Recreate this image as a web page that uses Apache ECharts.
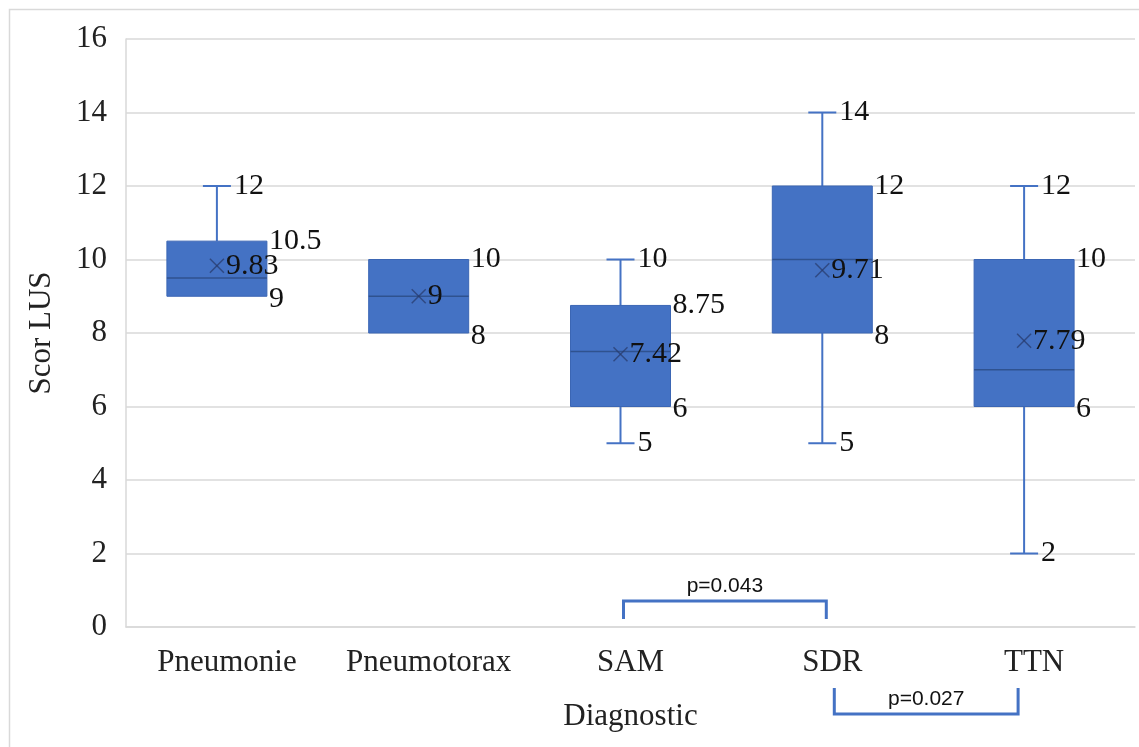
<!DOCTYPE html>
<html>
<head>
<meta charset="utf-8">
<script src="https://cdn.jsdelivr.net/npm/echarts@6/dist/echarts.min.js"></script>
<style>
  html, body { margin: 0; padding: 0; background: #fff; }
  #chart { width: 1139px; height: 747px; }
</style>
</head>
<body>
<div id="chart"></div>
<script>
// ---- data ----
const categories = ['Pneumonie', 'Pneumotorax', 'SAM', 'SDR', 'TTN'];
const minValues    = [9,    8,  5,    5,    2];
const q1Values     = [9,    8,  6,    8,    6];
const medianValues = [9.5,  9,  7.5,  10,   7];
const q3Values     = [10.5, 10, 8.75, 12,   10];
const maxValues    = [12,   10, 10,   14,   12];
const meanValues   = [9.83, 9,  7.42, 9.71, 7.79];
const yAxisMin = 0, yAxisMax = 16, yAxisStep = 2;
const xAxisTitle = 'Diagnostic';
const yAxisTitle = 'Scor LUS';
const compFrom   = ['SAM', 'SDR'];
const compTo     = ['SDR', 'TTN'];
const compLabels = ['p=0.043', 'p=0.027'];

// ---- styles ----
const S = {
  blue: '#4472C4',
  boxBorder: '#3B66B4',
  median: '#2F528F',
  mean: 'rgba(40,60,110,0.75)',
  grid: '#d9d9d9',
  serif: '"Liberation Serif", "Times New Roman", serif',
  sans: '"Liberation Sans", Arial, sans-serif',
  boxOffset: -10,
  boxWidth: 100,
  capHalf: 14,
  labelFont: 30,
  axisFont: 31
};

const seriesData = categories.map((c, i) => [i, minValues[i], q1Values[i], medianValues[i], q3Values[i], maxValues[i], meanValues[i]]);

function fmt(v) { return String(v); }

function renderItem(params, api) {
  const i = api.value(0);
  const mn = api.value(1), q1 = api.value(2), md = api.value(3), q3 = api.value(4), mx = api.value(5), mean = api.value(6);
  const cx = api.coord([i, 0])[0] + S.boxOffset;
  const y = v => api.coord([i, v])[1];
  const hw = S.boxWidth / 2, cap = S.capHalf;
  const ch = [];
  const line = (x1, y1, x2, y2, stroke, lw) => ({ type: 'line', shape: { x1, y1, x2, y2 }, style: { stroke, lineWidth: lw } });
  const label = (txt, x, yy) => ({ type: 'text', x: x, y: yy, z2: 20,
    style: { text: txt, fill: '#111', font: S.labelFont + 'px ' + S.serif, align: 'left', verticalAlign: 'middle' } });
  if (mx > q3) {
    ch.push(line(cx, y(q3), cx, y(mx), S.blue, 2));
    ch.push(line(cx - cap, y(mx), cx + cap, y(mx), S.blue, 2));
  }
  if (mn < q1) {
    ch.push(line(cx, y(q1), cx, y(mn), S.blue, 2));
    ch.push(line(cx - cap, y(mn), cx + cap, y(mn), S.blue, 2));
  }
  ch.push({ type: 'rect', shape: { x: cx - hw, y: y(q3), width: 2 * hw, height: y(q1) - y(q3) },
    style: { fill: S.blue, stroke: S.boxBorder, lineWidth: 1 } });
  ch.push(line(cx - hw, y(md), cx + hw, y(md), S.median, 1.5));
  const m = 7, ym = y(mean);
  ch.push(line(cx - m, ym - m, cx + m, ym + m, S.mean, 1.5));
  ch.push(line(cx - m, ym + m, cx + m, ym - m, S.mean, 1.5));
  // labels
  if (mx > q3) ch.push(label(fmt(mx), cx + cap + 3, y(mx)));
  ch.push(label(fmt(q3), cx + hw + 2, y(q3)));
  ch.push(label(fmt(mean), cx + 9, ym));
  ch.push(label(fmt(q1), cx + hw + 2, y(q1) + 3));
  if (mn < q1) ch.push(label(fmt(mn), cx + cap + 3, y(mn)));
  return { type: 'group', children: ch };
}

const chart = echarts.init(document.getElementById('chart'), null, { renderer: 'canvas' });
const option = {
  animation: false,
  backgroundColor: '#fff',
  grid: { left: 126, right: 4, top: 39, bottom: 120 },
  xAxis: {
    type: 'category',
    data: categories,
    name: xAxisTitle,
    nameLocation: 'middle',
    nameGap: 74,
    nameTextStyle: { fontFamily: S.serif, fontSize: S.axisFont, color: '#222' },
    axisLine: { show: true, lineStyle: { color: S.grid, width: 1.5 } },
    axisTick: { show: false },
    axisLabel: { interval: 0, margin: 20, fontFamily: S.serif, fontSize: S.axisFont, color: '#222' },
    splitLine: { show: false }
  },
  yAxis: {
    type: 'value',
    min: yAxisMin, max: yAxisMax, interval: yAxisStep,
    name: yAxisTitle,
    nameLocation: 'middle',
    nameGap: 69,
    nameRotate: 90,
    nameTextStyle: { fontFamily: S.serif, fontSize: S.axisFont, color: '#222' },
    axisLine: { show: true, lineStyle: { color: S.grid, width: 1.5 } },
    axisTick: { show: false },
    axisLabel: { margin: 19, fontFamily: S.serif, fontSize: S.axisFont, color: '#222' },
    splitLine: { show: true, lineStyle: { color: S.grid, width: 1.5 } }
  },
  series: [{
    type: 'custom',
    renderItem: renderItem,
    clip: false,
    encode: { x: 0, y: [1, 2, 3, 4, 5] },
    data: seriesData,
    z: 5
  }]
};
chart.setOption(option);

// annotations: comparison brackets, placed via the axes
function drawBrackets() {
  const y0 = chart.convertToPixel({ yAxisIndex: 0 }, 0);
  const g = [{
    type: 'rect', left: 7, top: 7, silent: true,
    shape: { x: 0, y: 0, width: 1200, height: 800 },
    style: { fill: 'none', stroke: S.grid, lineWidth: 1.5 }
  }];
  const cfg = [
    { dx1: -7, dx2: -6, yBar: y0 - 26, yEnd: y0 - 8, labelY: y0 - 41 },
    { dx1: 2, dx2: -16, yBar: y0 + 87, yEnd: y0 + 61, labelY: y0 + 72 }
  ];
  compLabels.forEach((lab, k) => {
    const x1 = chart.convertToPixel({ xAxisIndex: 0 }, compFrom[k]) + cfg[k].dx1;
    const x2 = chart.convertToPixel({ xAxisIndex: 0 }, compTo[k]) + cfg[k].dx2;
    const c = cfg[k];
    g.push({
      type: 'polyline', silent: true,
      shape: { points: [[x1, c.yEnd], [x1, c.yBar], [x2, c.yBar], [x2, c.yEnd]] },
      style: { stroke: S.blue, lineWidth: 3, fill: 'none' }
    });
    g.push({
      type: 'text', silent: true, x: (x1 + x2) / 2, y: c.labelY,
      style: { text: lab, fill: '#111', font: '21px ' + S.sans, align: 'center', verticalAlign: 'middle' }
    });
  });
  chart.setOption({ graphic: g });
}
drawBrackets();
</script>
</body>
</html>
